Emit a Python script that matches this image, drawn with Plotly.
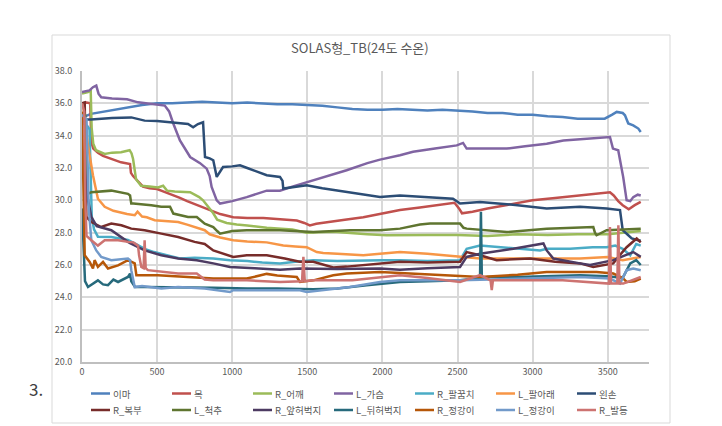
import plotly.graph_objects as go

# ---------------- data ----------------
series_names = ["이마", "목", "R_어깨", "L_가슴", "R_팔꿈치", "L_팔아래", "왼손",
                "R_복부", "L_척추", "R_앞허벅지", "L_뒤허벅지", "R_정강이", "L_정강이", "R_발등"]

imma_x = [0, 20, 60, 120, 200, 300, 400, 500, 600, 700, 800, 900, 1000, 1100, 1200, 1300, 1400, 1500,
          1600, 1700, 1800, 1900, 2000, 2100, 2200, 2300, 2400, 2500, 2600, 2700, 2800, 2900, 3000, 3100,
          3200, 3300, 3400, 3480, 3530, 3560, 3600, 3615, 3637, 3670, 3704, 3720]
imma_y = [35.0, 35.2, 35.35, 35.45, 35.6, 35.75, 35.9, 36.0, 36.0, 36.05, 36.1, 36.05, 36.0, 36.05, 36.0,
          35.95, 35.95, 35.9, 35.85, 35.75, 35.65, 35.6, 35.6, 35.65, 35.6, 35.55, 35.6, 35.55, 35.5, 35.4,
          35.4, 35.3, 35.3, 35.2, 35.15, 35.05, 35.05, 35.05, 35.3, 35.47, 35.4, 35.26, 34.75, 34.64, 34.44, 34.23]

mok_x = [0, 30, 55, 62, 75, 106, 140, 173, 220, 260, 320, 326, 340, 373, 406, 450, 500, 540, 600, 652,
         700, 740, 800, 874, 920, 1007, 1100, 1207, 1300, 1430, 1480, 1517, 1560, 1650, 1750, 1873, 1984,
         2117, 2250, 2400, 2480, 2510, 2530, 2600, 2700, 2850, 3000, 3150, 3300, 3420, 3515, 3540, 3570,
         3600, 3640, 3680, 3720]
mok_y = [36.0, 36.05, 36.0, 33.6, 33.2, 32.95, 32.75, 32.65, 32.5, 32.35, 32.25, 31.7, 31.5, 31.2, 30.85,
         30.75, 30.7, 30.55, 30.35, 30.15, 29.95, 29.8, 29.6, 29.3, 29.15, 28.95, 28.9, 28.9, 28.85, 28.75,
         28.6, 28.45, 28.55, 28.65, 28.8, 28.95, 29.15, 29.4, 29.55, 29.75, 29.85, 29.5, 29.2, 29.3, 29.5,
         29.75, 30.0, 30.15, 30.3, 30.4, 30.5, 30.3, 29.95, 29.7, 29.45, 29.7, 29.9]

r_eokkae_x = [0, 40, 58, 64, 75, 93, 151, 200, 260, 317, 330, 340, 360, 393, 450, 506, 540, 566, 617,
              683, 720, 780, 806, 840, 874, 900, 963, 1030, 1100, 1230, 1400, 1496, 1673, 1900, 2028,
              2300, 2500, 2700, 2900, 3100, 3300, 3500, 3600, 3720]
r_eokkae_y = [36.6, 36.7, 36.8, 34.5, 33.5, 33.1, 32.87, 32.95, 32.97, 33.1, 32.9, 32.56, 31.3, 30.9,
              30.85, 30.8, 30.9, 30.6, 30.55, 30.5, 30.5, 30.2, 30.0, 29.6, 29.2, 28.8, 28.6, 28.5, 28.45,
              28.3, 28.2, 28.0, 28.05, 27.9, 27.84, 27.85, 27.85, 27.8, 27.9, 27.85, 27.9, 27.9, 28.0, 28.1]

l_gaseum_x = [0, 50, 73, 95, 110, 128, 200, 300, 373, 484, 551, 580, 607, 652, 720, 786, 830, 850, 863,
              897, 919, 1000, 1097, 1230, 1318, 1400, 1540, 1650, 1762, 1900, 1984, 2117, 2204, 2350,
              2495, 2537, 2561, 2700, 2828, 2950, 3094, 3205, 3350, 3515, 3535, 3570, 3603, 3626, 3650,
              3670, 3700, 3720]
l_gaseum_y = [36.7, 36.8, 37.0, 37.1, 36.6, 36.37, 36.3, 36.25, 36.06, 35.96, 35.86, 35.5, 34.77, 33.7,
              32.68, 32.3, 31.96, 31.5, 30.83, 30.0, 29.8, 29.95, 30.2, 30.6, 30.6, 30.85, 31.24, 31.55,
              31.86, 32.3, 32.52, 32.79, 33.0, 33.2, 33.4, 33.55, 33.2, 33.2, 33.2, 33.35, 33.5, 33.7,
              33.8, 33.92, 33.2, 33.1, 31.45, 30.0, 29.95, 30.2, 30.35, 30.3]

r_palkkumchi_x = [0, 35, 50, 58, 65, 80, 106, 195, 306, 360, 417, 480, 540, 600, 652, 750, 874, 985,
                  1100, 1200, 1318, 1420, 1540, 1700, 1873, 2000, 2117, 2300, 2517, 2545, 2561, 2650,
                  2800, 2950, 3050, 3094, 3250, 3400, 3493, 3550, 3600, 3650, 3690, 3720]
r_palkkumchi_y = [34.8, 34.6, 34.4, 31.5, 29.0, 28.2, 27.75, 27.73, 27.55, 27.3, 27.0, 26.8, 26.65, 26.5,
                  26.4, 26.45, 26.4, 26.3, 26.25, 26.15, 26.1, 26.2, 26.3, 26.25, 26.3, 26.3, 26.3, 26.25,
                  26.3, 26.8, 27.0, 27.2, 27.1, 27.0, 26.9, 27.0, 27.0, 27.1, 27.1, 27.2, 27.0, 26.6, 27.3, 27.2]

l_palarae_x = [0, 7, 40, 73, 106, 151, 209, 240, 300, 351, 370, 400, 431, 484, 560, 640, 700, 750, 817,
               850, 920, 1007, 1100, 1230, 1340, 1420, 1496, 1563, 1606, 1700, 1873, 1984, 2117, 2300,
               2517, 2650, 2900, 3100, 3316, 3500, 3600, 3720]
l_palarae_y = [36.0, 35.9, 33.4, 31.55, 30.1, 29.6, 29.35, 29.28, 29.15, 29.08, 29.3, 29.0, 28.95, 28.77,
               28.7, 28.66, 28.5, 28.35, 28.15, 27.9, 27.7, 27.53, 27.45, 27.4, 27.2, 27.15, 27.1, 26.8,
               26.75, 26.7, 26.6, 26.7, 26.8, 26.7, 26.5, 26.4, 26.4, 26.4, 26.4, 26.5, 26.3, 26.5]

wenson_x = [0, 20, 60, 106, 200, 328, 417, 500, 573, 650, 706, 740, 772, 806, 812, 819, 850, 874, 897,
            939, 1000, 1052, 1100, 1140, 1230, 1318, 1335, 1340, 1420, 1496, 1600, 1762, 1900, 1984, 2117,
            2300, 2470, 2517, 2650, 2900, 3094, 3316, 3493, 3582, 3590, 3600, 3630, 3660, 3703, 3720]
wenson_y = [34.8, 35.0, 35.0, 35.03, 35.1, 35.13, 34.93, 34.9, 34.83, 34.8, 34.72, 34.52, 34.72, 34.83,
            33.5, 32.68, 32.6, 32.48, 31.45, 32.06, 32.1, 32.17, 32.0, 31.86, 31.55, 31.45, 31.2, 30.73,
            30.85, 30.93, 30.75, 30.52, 30.3, 30.2, 30.3, 30.2, 30.1, 29.8, 29.9, 29.7, 29.5, 29.6, 29.5,
            29.4, 28.9, 28.15, 27.9, 27.64, 27.53, 27.5]

r_bokbu_x = [0, 18, 25, 29, 62, 128, 195, 262, 328, 417, 528, 640, 750, 817, 874, 1007, 1097, 1230, 1350,
             1450, 1540, 1673, 1762, 1900, 1984, 2117, 2300, 2517, 2561, 2650, 2761, 2983, 3150, 3316,
             3404, 3537, 3580, 3626, 3693, 3720]
r_bokbu_y = [36.0, 36.05, 32.0, 28.97, 28.66, 28.35, 28.56, 28.46, 28.25, 28.15, 27.94, 27.73, 27.43,
             27.3, 26.9, 26.5, 26.6, 26.6, 26.4, 26.2, 26.2, 25.85, 25.9, 26.0, 26.1, 26.2, 26.15, 26.2,
             26.8, 26.6, 26.3, 26.4, 26.2, 26.1, 25.88, 26.1, 26.6, 27.1, 27.64, 27.4]

l_cheokchu_x = [0, 20, 28, 40, 62, 195, 306, 320, 328, 342, 461, 528, 586, 600, 608, 706, 764, 817, 874,
                900, 919, 1000, 1097, 1200, 1318, 1540, 1784, 1984, 2117, 2250, 2317, 2517, 2540, 2561,
                2828, 3094, 3404, 3415, 3426, 3493, 3600, 3720]
l_cheokchu_y = [35.4, 35.3, 32.0, 30.4, 30.5, 30.6, 30.4, 30.3, 29.8, 29.8, 29.7, 29.6, 29.6, 29.3, 29.18,
                28.97, 28.97, 28.56, 28.35, 28.1, 27.94, 28.1, 28.15, 28.15, 28.15, 28.04, 28.15, 28.15,
                28.25, 28.5, 28.56, 28.56, 28.3, 28.25, 28.04, 28.25, 28.35, 28.0, 27.84, 28.15, 28.2, 28.25]

r_apheobeokji_x = [0, 15, 30, 62, 98, 195, 306, 320, 417, 528, 640, 764, 874, 985, 1150, 1318, 1451,
                   1700, 1984, 2117, 2300, 2517, 2561, 2650, 2872, 3072, 3094, 3138, 3316, 3383, 3537,
                   3670, 3720]
r_apheobeokji_y = [33.0, 32.5, 30.5, 28.97, 28.4, 28.15, 27.43, 27.35, 26.9, 26.6, 26.4, 26.3, 26.1,
                   25.88, 25.8, 25.7, 25.78, 25.75, 25.78, 25.7, 25.8, 25.88, 26.5, 26.7, 27.0, 27.33,
                   26.9, 26.4, 26.1, 26.0, 26.3, 26.8, 26.5]

l_dwiheobeokji_x = [0, 12, 20, 40, 73, 106, 140, 173, 209, 240, 306, 320, 328, 353, 417, 652, 874, 1100,
                    1300, 1540, 1700, 1895, 2117, 2300, 2517, 2650, 2656, 2662, 2700, 2900, 3100, 3316,
                    3500, 3600, 3650, 3690, 3720]
l_dwiheobeokji_y = [29.5, 27.0, 25.0, 24.64, 24.85, 25.05, 24.8, 24.75, 25.1, 24.95, 25.26, 25.47, 25.0,
                    24.64, 24.64, 24.64, 24.6, 24.55, 24.55, 24.5, 24.55, 24.75, 24.95, 25.0, 25.05, 25.2,
                    29.3, 25.2, 25.26, 25.26, 25.3, 25.37, 25.3, 25.2, 26.1, 26.3, 26.0]

r_jeonggangi_x = [0, 10, 18, 51, 73, 84, 106, 140, 173, 240, 306, 351, 362, 506, 652, 874, 1097, 1185,
                  1230, 1300, 1430, 1451, 1540, 1673, 1762, 1984, 2117, 2428, 2650, 2900, 3094, 3426,
                  3537, 3600, 3626, 3680, 3720]
r_jeonggangi_y = [35.5, 30.0, 26.6, 26.19, 25.78, 26.3, 25.88, 26.19, 25.78, 25.98, 26.3, 26.1, 25.37,
                  25.37, 25.3, 25.16, 25.16, 25.37, 25.45, 25.35, 25.26, 24.95, 25.05, 25.37, 25.47, 25.57,
                  25.5, 25.37, 25.26, 25.4, 25.57, 25.57, 25.47, 25.2, 24.95, 25.0, 25.16]

l_jeonggangi_x = [0, 30, 45, 62, 95, 128, 195, 306, 320, 328, 351, 400, 528, 640, 817, 985, 1007, 1318,
                  1451, 1496, 1600, 1784, 1984, 2117, 2517, 2872, 3316, 3515, 3582, 3626, 3670, 3720]
l_jeonggangi_y = [35.3, 35.0, 29.5, 27.53, 26.9, 26.5, 26.3, 26.4, 26.3, 25.68, 24.64, 24.7, 24.54,
                  24.64, 24.54, 24.33, 24.44, 24.44, 24.44, 24.33, 24.45, 24.64, 24.95, 25.05, 25.05,
                  25.16, 25.26, 25.16, 24.85, 25.68, 25.78, 25.68]

r_baldeung_x = [0, 15, 22, 30, 62, 106, 151, 240, 306, 342, 373, 380, 395, 410, 417, 424, 439, 528, 640,
                764, 817, 874, 1097, 1318, 1465, 1474, 1483, 1540, 1800, 2117, 2300, 2517, 2650, 2720,
                2728, 2736, 2872, 3200, 3508, 3515, 3522, 3564, 3571, 3578, 3604, 3720]
r_baldeung_y = [36.0, 35.5, 30.0, 27.8, 27.53, 27.2, 27.53, 27.53, 27.43, 27.4, 27.2, 26.6, 25.88, 25.8,
                27.53, 25.8, 25.68, 25.57, 25.47, 25.47, 25.1, 25.05, 25.05, 24.95, 25.0, 26.5, 25.0,
                25.05, 25.05, 25.37, 25.2, 24.95, 25.37, 25.05, 24.44, 25.05, 25.05, 25.05, 24.85, 28.35,
                24.85, 24.85, 28.46, 24.85, 24.85, 25.26]

series_colors = ["#4F81BD", "#C0504D", "#9BBB59", "#8064A2", "#4BACC6", "#F79646", "#2C4D75",
                 "#772C2A", "#5F7530", "#4D3B62", "#276A7C", "#B65708", "#729ACA", "#CD7371"]

x_ticks = [0, 500, 1000, 1500, 2000, 2500, 3000, 3500]
y_ticks = [20, 22, 24, 26, 28, 30, 32, 34, 36, 38]

title_text = "SOLAS형_TB(24도 수온)"
side_label = "3."

xs_all = [imma_x, mok_x, r_eokkae_x, l_gaseum_x, r_palkkumchi_x, l_palarae_x, wenson_x,
          r_bokbu_x, l_cheokchu_x, r_apheobeokji_x, l_dwiheobeokji_x, r_jeonggangi_x, l_jeonggangi_x,
          r_baldeung_x]
ys_all = [imma_y, mok_y, r_eokkae_y, l_gaseum_y, r_palkkumchi_y, l_palarae_y, wenson_y,
          r_bokbu_y, l_cheokchu_y, r_apheobeokji_y, l_dwiheobeokji_y, r_jeonggangi_y, l_jeonggangi_y,
          r_baldeung_y]

# ---------------- figure ----------------
W, H = 722, 426
ML, MR, MT, MB = 82, 73, 71, 64
PW = W - ML - MR
PH = H - MT - MB
FONT = "Noto Sans CJK KR"
TXT = "#595959"


def px2x(px):
    return (px - ML) / PW


def py2y(py):
    return (H - MB - py) / PH


fig = go.Figure()
for nm, xs, ys, c in zip(series_names, xs_all, ys_all, series_colors):
    fig.add_trace(go.Scatter(x=xs, y=ys, mode="lines", name=nm,
                             line=dict(color=c, width=2.5), showlegend=False,
                             hoverinfo="skip"))

shapes = [dict(type="rect", xref="paper", yref="paper",
               x0=px2x(52), x1=px2x(670), y0=py2y(423), y1=py2y(35),
               line=dict(color="#D9D9D9", width=1), layer="below")]
annotations = [
    dict(text=title_text, xref="paper", yref="paper", x=px2x(360), y=py2y(47),
         xanchor="center", yanchor="middle", showarrow=False,
         font=dict(family=FONT, size=13, color=TXT)),
    dict(text=side_label, xref="paper", yref="paper", x=px2x(36), y=py2y(388),
         xanchor="center", yanchor="middle", showarrow=False,
         font=dict(family=FONT, size=17, color="#404040")),
]

for i, (nm, c) in enumerate(zip(series_names, series_colors)):
    col, row = i % 7, i // 7
    lx = 91 + 81 * col
    ly = 393.5 + 16.5 * row
    shapes.append(dict(type="line", xref="paper", yref="paper",
                       x0=px2x(lx), x1=px2x(lx + 19), y0=py2y(ly), y1=py2y(ly),
                       line=dict(color=c, width=2.5)))
    annotations.append(dict(text=nm, xref="paper", yref="paper", x=px2x(lx + 20), y=py2y(ly),
                            xanchor="left", yanchor="middle", showarrow=False,
                            font=dict(family=FONT, size=9.5, color=TXT)))

fig.update_layout(
    width=W, height=H,
    margin=dict(l=ML, r=MR, t=MT, b=MB, pad=0),
    paper_bgcolor="white", plot_bgcolor="white",
    showlegend=False,
    shapes=shapes, annotations=annotations,
    font=dict(family=FONT, size=9, color=TXT),
    xaxis=dict(range=[0, 3775], tickvals=x_ticks, ticktext=[str(v) for v in x_ticks],
               showgrid=True, gridcolor="#D9D9D9", gridwidth=1.5,
               showline=True, linecolor="#BFBFBF", linewidth=2,
               zeroline=False, ticks="", tickfont=dict(family=FONT, size=9, color=TXT)),
    yaxis=dict(range=[20, 38], tickvals=y_ticks, ticktext=[f"{v:.1f}" for v in y_ticks],
               showgrid=True, gridcolor="#D9D9D9", gridwidth=1.5,
               showline=True, linecolor="#BFBFBF", linewidth=2,
               zeroline=False, ticks="", ticklabelstandoff=6,
               tickfont=dict(family=FONT, size=9, color=TXT)),
)

fig.write_html("out.html")
